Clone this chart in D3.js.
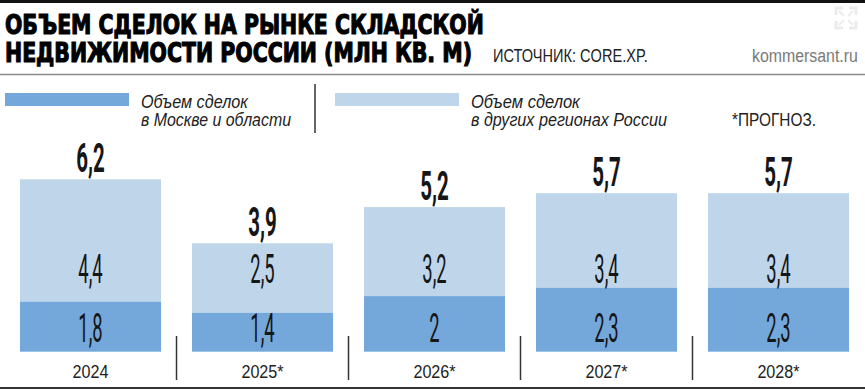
<!DOCTYPE html>
<html>
<head>
<meta charset="utf-8">
<script src="https://cdn.jsdelivr.net/npm/d3@7"></script>
<style>
  body { margin: 0; background: #fff; }
  svg { display: block; }
</style>
</head>
<body>
<svg></svg>
<script>
const years = ['2024', '2025*', '2026*', '2027*', '2028*'];
const moscow = [1.8, 1.4, 2, 2.3, 2.3];
const regions = [4.4, 2.5, 3.2, 3.4, 3.4];
const totals = [6.2, 3.9, 5.2, 5.7, 5.7];

const width = 865;
const height = 391;
const darkBlue = '#74a8da';
const lightBlue = '#bed5ea';
const ink = '#161616';

const fmt = (v) => String(v).replace('.', ',');

const svg = d3.select('svg')
              .attr('width', width)
              .attr('height', height);

const xScale = d3.scaleBand()
                 .domain(years)
                 .range([20, 849])
                 .paddingInner(0.18)
                 .paddingOuter(0);

const yScale = d3.scaleLinear()
                 .domain([0, 6.2])
                 .range([351.7, 179.3]);

// one text block of several lines, squeezed so each line spans its given width
const fitLines = (lines, x, y, lineHeight, widths, style) => {
  const txt = svg.append('text');
  style(txt);
  const spans = lines.map((t, i) =>
    txt.append('tspan')
        .text(t)
        .attr('x', 0)
        .attr('y', i * lineHeight));
  const natural = spans.map((s) => s.node().getComputedTextLength());
  const sx = widths[0] / natural[0];
  spans.forEach((s, i) => {
    if (i > 0) {
      s.attr('textLength', widths[i] / sx)
       .attr('lengthAdjust', 'spacingAndGlyphs');
    }
  });
  txt.attr('transform', `translate(${x}, ${y}) scale(${sx}, 1)`);
  return txt;
};

const plainStyle = (size, color, italic) => (t) => t
    .style('font-family', '"Liberation Sans", Arial, sans-serif')
    .style('font-style', italic ? 'italic' : 'normal')
    .style('font-size', size + 'px')
    .attr('fill', color);

// header
svg.append('rect')
    .attr('x', 0).attr('y', 0)
    .attr('width', width).attr('height', 3)
    .attr('fill', '#111');

fitLines(
  ['ОБЪЕМ СДЕЛОК НА РЫНКЕ СКЛАДСКОЙ', 'НЕДВИЖИМОСТИ РОССИИ (МЛН КВ. М)'],
  5, 34, 28, [479, 467],
  (t) => t
    .style('font-family', '"DejaVu Sans", sans-serif')
    .style('font-weight', 700)
    .style('font-size', '27px')
    .attr('fill', '#000')
    .attr('stroke', '#000')
    .attr('stroke-width', 1.2)
);

fitLines(['ИСТОЧНИК: CORE.XP.'], 493, 62, 0, [155], plainStyle(19, '#222'));
fitLines(['kommersant.ru'], 752, 62, 0, [106], plainStyle(19, '#7a7a7a'));

// faint logo mark
const logo = svg.append('g')
    .attr('transform', 'translate(846, 18)')
    .attr('fill', 'none')
    .attr('stroke', '#ececec')
    .attr('stroke-width', 3);
[[-1, -1], [1, -1], [-1, 1], [1, 1]].forEach(([sx, sy]) => {
  logo.append('path')
      .attr('d', `M${sx * 3},${sy * 10} L${sx * 10},${sy * 10} L${sx * 10},${sy * 3}`);
  logo.append('path')
      .attr('d', `M${sx * 2},${sy * 2} L${sx * 7},${sy * 7}`)
      .attr('stroke-width', 2);
});

svg.append('line')
    .attr('x1', 0).attr('x2', width)
    .attr('y1', 74.5).attr('y2', 74.5)
    .attr('stroke', '#8a8a8a')
    .attr('stroke-width', 1.5);

// legend
const legend = [
  { color: darkBlue, x: 5, lines: ['Объем сделок', 'в Москве и области'], tx: 141, tw: [107, 150] },
  { color: lightBlue, x: 335, lines: ['Объем сделок', 'в других регионах России'], tx: 471, tw: [109, 196] }
];

legend.forEach((l) => {
  svg.append('rect')
      .attr('x', l.x).attr('y', 93)
      .attr('width', 124).attr('height', 13)
      .attr('fill', l.color);
  fitLines(l.lines, l.tx, 108, 18, l.tw, plainStyle(18, '#222', true));
});

svg.append('line')
    .attr('x1', 315).attr('x2', 315)
    .attr('y1', 84).attr('y2', 133)
    .attr('stroke', '#333')
    .attr('stroke-width', 1.5);

fitLines(['*ПРОГНОЗ.'], 732, 126, 0, [84], plainStyle(18, '#222'));

// bars
const rows = years.map((year, i) => ({ year, moscow: moscow[i], regions: regions[i], total: totals[i] }));

const groups = svg.selectAll('g.bar')
  .data(rows)
  .enter()
  .append('g')
    .attr('class', 'bar');

groups.append('rect')
    .attr('x', (d) => xScale(d.year))
    .attr('width', xScale.bandwidth())
    .attr('y', (d) => yScale(d.moscow + d.regions))
    .attr('height', (d) => yScale(d.moscow) - yScale(d.moscow + d.regions))
    .attr('fill', lightBlue);

groups.append('rect')
    .attr('x', (d) => xScale(d.year))
    .attr('width', xScale.bandwidth())
    .attr('y', (d) => yScale(d.moscow))
    .attr('height', (d) => yScale(0) - yScale(d.moscow))
    .attr('fill', darkBlue);

const cx = (d) => xScale(d.year) + xScale.bandwidth() / 2;

const numText = (sel, yFn, textFn, weight, size, sx) => {
  sel.append('text')
      .text(textFn)
      .attr('transform', (d) => `translate(${cx(d)}, ${yFn(d)}) scale(${sx}, 1)`)
      .style('text-anchor', 'middle')
      .style('font-family', 'Roboto, "Liberation Sans", sans-serif')
      .style('font-weight', weight)
      .style('font-size', size + 'px')
      .attr('fill', ink);
};

numText(groups, (d) => yScale(0) - 10, (d) => fmt(d.moscow), 400, 40, 0.46);
numText(groups, (d) => yScale(0) - 69, (d) => fmt(d.regions), 400, 40, 0.46);
numText(groups, (d) => yScale(d.total) - 7, (d) => fmt(d.total), 700, 41, 0.5);

// year labels
groups.append('text')
    .text((d) => d.year)
    .attr('transform', (d) => `translate(${cx(d)}, 378) scale(0.85, 1)`)
    .style('text-anchor', 'middle')
    .style('font-family', '"Liberation Sans", Arial, sans-serif')
    .style('font-size', '19px')
    .attr('fill', '#222');

// separators between columns
const step = xScale.step();
svg.selectAll('line.sep')
  .data(years.slice(1))
  .enter()
  .append('line')
    .attr('class', 'sep')
    .attr('x1', (d) => xScale(d) - (step - xScale.bandwidth()) / 2)
    .attr('x2', (d) => xScale(d) - (step - xScale.bandwidth()) / 2)
    .attr('y1', 336)
    .attr('y2', 380)
    .attr('stroke', '#333')
    .attr('stroke-width', 1.5);

svg.append('line')
    .attr('x1', 0).attr('x2', width)
    .attr('y1', 388).attr('y2', 388)
    .attr('stroke', '#333')
    .attr('stroke-width', 2);
</script>
</body>
</html>
